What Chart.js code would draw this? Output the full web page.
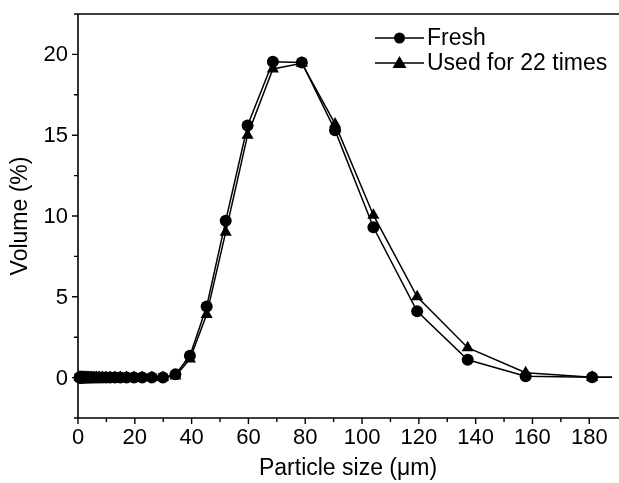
<!DOCTYPE html>
<html>
<head>
<meta charset="utf-8">
<script src="https://cdn.jsdelivr.net/npm/chart.js@4"></script>
<style>
html,body{margin:0;padding:0;background:#fff;}
#wrap{width:619px;height:483px;position:relative;}
</style>
</head>
<body>
<div id="wrap"><canvas id="c" width="619" height="483"></canvas></div>
<script>
const sizes = [0.54,0.62,0.71,0.81,0.93,1.07,1.23,1.41,1.62,1.87,2.14,2.46,2.83,3.25,3.73,4.29,4.92,5.66,6.5,7.46,8.57,9.85,11.3,13,14.9,17.1,19.7,22.6,26,29.9,34.3,39.4,45.3,52,59.7,68.6,78.8,90.5,104,119.4,137.2,157.6,181,207.9];
const fresh = [0,0,0,0,0,0,0,0,0,0,0,0,0,0,0,0,0,0,0,0,0,0,0,0,0,0,0,0,0,0,0.2,1.35,4.4,9.7,15.6,19.55,19.5,15.3,9.3,4.1,1.1,0.08,0.02,0];
const used = [0,0,0,0,0,0,0,0,0,0,0,0,0,0,0,0,0,0,0,0,0,0,0,0,0,0,0,0,0,0,0.1,1.15,3.9,9.0,15.0,19.1,19.45,15.7,10.05,5.0,1.85,0.3,0.02,0];
const seriesNames = ["Fresh","Used for 22 times"];
const xTickLabels = [0,20,40,60,80,100,120,140,160,180];
const yTickLabels = [0,5,10,15,20];

const toPts = (ys) => sizes.map((x,i)=>({x:x,y:ys[i]}));
const FONT = "'Liberation Sans', Arial, sans-serif";

const framePlugin = {
  id:'frame',
  afterDraw(chart){
    const ctx = chart.ctx, a = chart.chartArea;
    const xs = chart.scales.x, ys = chart.scales.y;
    ctx.save();
    ctx.strokeStyle = '#000';
    ctx.lineWidth = 1.6;
    ctx.beginPath();
    ctx.moveTo(a.left, a.top); ctx.lineTo(chart.width, a.top);
    ctx.moveTo(a.left, a.top); ctx.lineTo(a.left, a.bottom);
    ctx.moveTo(a.left, a.bottom); ctx.lineTo(chart.width, a.bottom);
    ctx.stroke();
    ctx.lineWidth = 1.4;
    ctx.beginPath();
    for (let v = 0; v <= xs.max; v += 10) {
      const p = xs.getPixelForValue(v);
      const major = xTickLabels.includes(v);
      ctx.moveTo(p, a.bottom); ctx.lineTo(p, a.bottom + (major ? 6 : 4));
    }
    for (let v = ys.min; v <= ys.max + 0.001; v += 2.5) {
      const p = ys.getPixelForValue(v);
      const major = yTickLabels.includes(v);
      ctx.moveTo(a.left, p); ctx.lineTo(a.left - (major ? 6 : 4), p);
    }
    ctx.stroke();
    ctx.fillStyle = '#000';
    ctx.font = '22px ' + FONT;
    ctx.textAlign = 'center'; ctx.textBaseline = 'top';
    xTickLabels.forEach(v => ctx.fillText(String(v), xs.getPixelForValue(v), a.bottom + 9));
    ctx.textAlign = 'right'; ctx.textBaseline = 'middle';
    yTickLabels.forEach(v => ctx.fillText(String(v), a.left - 10, ys.getPixelForValue(v) + 1));
    ctx.font = '23px ' + FONT;
    ctx.textAlign = 'center'; ctx.textBaseline = 'middle';
    ctx.fillText('Particle size (\u03bcm)', 348, 469);
    ctx.save();
    ctx.translate(21, 216);
    ctx.rotate(-Math.PI/2);
    ctx.fillText('Volume (%)', 0, 0);
    ctx.restore();
    const entries = [{name:seriesNames[0], shape:'circle', y:38},{name:seriesNames[1], shape:'triangle', y:63}];
    entries.forEach(e => {
      ctx.lineWidth = 1.5;
      ctx.beginPath();
      ctx.moveTo(375, e.y); ctx.lineTo(424, e.y);
      ctx.stroke();
      ctx.beginPath();
      if (e.shape === 'circle') {
        ctx.arc(399.5, e.y, 5.5, 0, Math.PI*2);
      } else {
        ctx.moveTo(399.5, e.y - 7); ctx.lineTo(406.5, e.y + 5); ctx.lineTo(392.5, e.y + 5); ctx.closePath();
      }
      ctx.fill();
      ctx.textAlign = 'left'; ctx.textBaseline = 'middle';
      ctx.font = '23px ' + FONT;
      ctx.fillText(e.name, 427, e.y + 1);
    });
    ctx.restore();
  }
};

new Chart(document.getElementById('c'), {
  type:'line',
  data:{
    datasets:[
      {label:seriesNames[1], data:toPts(used), borderColor:'#000', backgroundColor:'#000', borderWidth:1.5,
       pointStyle:'triangle', pointRadius:7, pointBorderWidth:0, pointBackgroundColor:'#000', tension:0},
      {label:seriesNames[0], data:toPts(fresh), borderColor:'#000', backgroundColor:'#000', borderWidth:1.5,
       pointStyle:'circle', pointRadius:6, pointBorderWidth:0, pointBackgroundColor:'#000', tension:0}
    ]
  },
  options:{
    responsive:false,
    animation:false,
    events:[],
    clip:{left:false, top:false, right:0, bottom:false},
    layout:{padding:{top:14, right:0, left:0, bottom:0}},
    plugins:{legend:{display:false}, tooltip:{enabled:false}},
    scales:{
      x:{type:'linear', min:0, max:188,
         grid:{display:false, drawTicks:false}, border:{display:false},
         ticks:{display:false},
         afterFit(s){ s.height = 65; }},
      y:{type:'linear', min:-2.5, max:22.5,
         grid:{display:false, drawTicks:false}, border:{display:false},
         ticks:{display:false},
         afterFit(s){ s.width = 78; }}
    }
  },
  plugins:[framePlugin]
});
</script>
</body>
</html>
